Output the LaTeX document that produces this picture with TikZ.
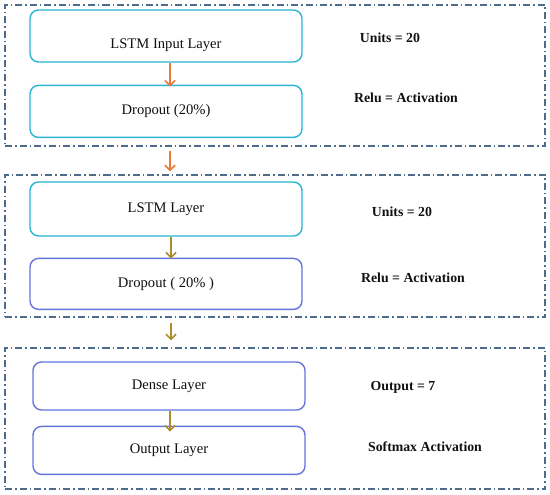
\documentclass[tikz,border=0pt]{standalone}
\usepackage{fontspec}
\setmainfont{Liberation Serif}
\usepackage{xcolor}
\definecolor{Frame}{HTML}{4F6B8C}
\definecolor{Cyan}{HTML}{2AB4D4}
\definecolor{Violet}{HTML}{6475DE}
\definecolor{Orange}{HTML}{E8793A}
\definecolor{Olive}{HTML}{AA8F2C}
\definecolor{Ink}{HTML}{111111}
\usepackage{tikz}
\usetikzlibrary{arrows.meta,positioning,calc}
\tikzset{
  layer/.style={draw=Cyan,fill=white,rounded corners=3mm,line width=1.4pt,
    minimum width=272pt,minimum height=52pt,align=center,text=Ink,
    font=\fontsize{14.6}{17}\selectfont,inner sep=2pt},
  layerv/.style={layer,draw=Violet},
  frame/.style={draw=Frame,line width=1.1pt,dash pattern=on 7pt off 3pt on 1.5pt off 3pt,
    minimum width=540pt,inner sep=0pt},
  arrow/.style={-{Straight Barb[length=5pt,width=10pt]},line width=1.7pt,draw=Orange},
  arrowo/.style={arrow,draw=Olive},
  note/.style={font=\fontsize{13.8}{16}\selectfont\bfseries,text=Ink}
}

\begin{document}
\begin{tikzpicture}[x=1pt,y=-1pt]
\useasboundingbox (0,0) rectangle (550,495);
% dash-dot frames
\node[frame,minimum height=141pt] (f1) at (275,75.5) {};
\node[frame,minimum height=142pt] (f2) at (275,246) {};
\node[frame,minimum height=141pt] (f3) at (275,418.5) {};
% first block
\node[layer] (inp) at (166,36) {\raisebox{-13pt}[0pt][0pt]{LSTM Input Layer}};
\node[layer,below=22pt of inp] (drop1) {Dropout (20\%)};
\node[note] (u1) at (390,38) {Units = 20};
\node[note] (r1) at (406,98) {Relu = Activation};
% second block
\node[layer,minimum height=54pt] (lstm) at (166,209) {LSTM Layer};
\node[layerv,minimum height=51pt,below=21pt of lstm] (drop2) {Dropout ( 20\% )};
\node[note] (u2) at (402,212) {Units = 20};
\node[note] (r2) at (413,278) {Relu = Activation};
% third block
\node[layerv,minimum height=48pt] (dense) at (169,386) {Dense Layer};
\node[layerv,minimum height=48pt,below=15pt of dense] (out) {Output Layer};
\node[note] (o3) at (403,387) {Output = 7};
\node[note] (s3) at (425,447) {Softmax Activation};
% arrows
\draw[arrow] ([xshift=4pt]inp.south) -- ([xshift=4pt,yshift=-2pt]drop1.north);
\draw[arrow,shorten <=4pt,shorten >=3pt] ([xshift=4pt]inp.south |- f1.south) -- ([xshift=4pt]inp.south |- f2.north);
\draw[arrowo] ([xshift=5pt]lstm.south) -- ([xshift=5pt,yshift=-1pt]drop2.north);
\draw[arrowo,shorten <=5pt,shorten >=7pt] ([xshift=5pt]lstm.south |- f2.south) -- ([xshift=5pt]lstm.south |- f3.north);
\draw[arrowo] ([xshift=1pt]dense.south) -- ([xshift=1pt,yshift=-6pt]out.north);
\end{tikzpicture}
\end{document}
